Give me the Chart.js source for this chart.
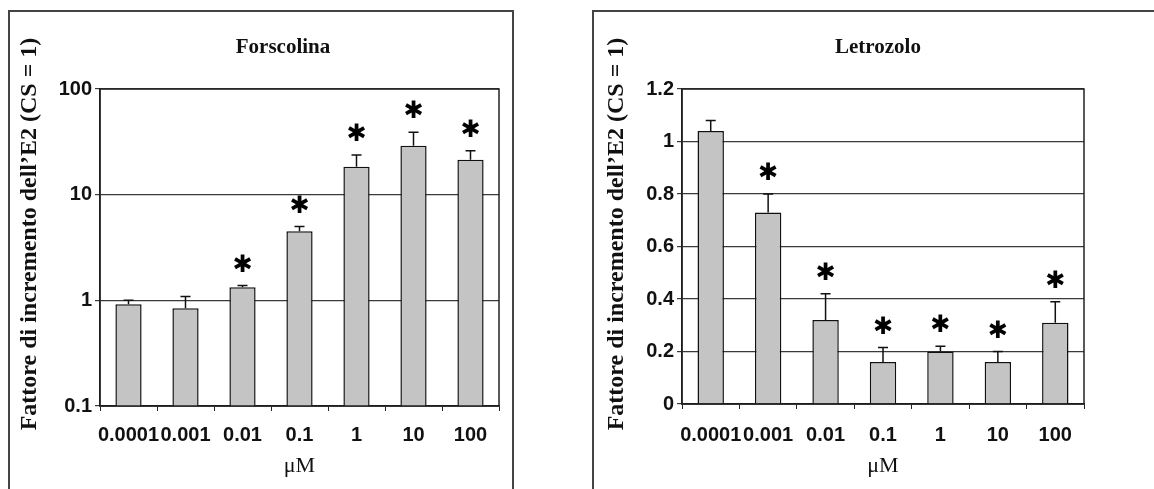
<!DOCTYPE html>
<html>
<head>
<meta charset="utf-8">
<script src="https://cdn.jsdelivr.net/npm/chart.js@4.4.1/dist/chart.umd.min.js"></script>
<style>
  body { margin: 0; background: #fff; width: 1154px; height: 489px; overflow: hidden; position: relative; }
  canvas { position: absolute; top: 0; }
  .frame { position: absolute; border: 2px solid #444; pointer-events: none; }
</style>
</head>
<body>
<div class="frame" style="left:8px;top:10px;width:502px;height:520px;"></div>
<div class="frame" style="left:592px;top:10px;width:620px;height:520px;"></div>
<canvas id="forscolina" width="512" height="489" style="left:0"></canvas>
<canvas id="letrozolo" width="574" height="489" style="left:580px"></canvas>
<script>
const doses = ['0.0001', '0.001', '0.01', '0.1', '1', '10', '100'];

const forscolinaMean = [0.92, 0.84, 1.33, 4.5, 18.4, 29, 21.4];
const forscolinaErrTop = [1.0, 1.09, 1.38, 5.0, 23.8, 39, 26];
const forscolinaSig = [false, false, true, true, true, true, true];
const forscolinaTicks = [0.1, 1, 10, 100];

const letrozoloMean = [1.04, 0.73, 0.32, 0.16, 0.2, 0.16, 0.31];
const letrozoloErrTop = [1.08, 0.8, 0.42, 0.215, 0.22, 0.2, 0.39];
const letrozoloSig = [false, true, true, true, true, true, true];
const letrozoloTicks = [0, 0.2, 0.4, 0.6, 0.8, 1, 1.2];

const yTitle = 'Fattore di incremento dell\u2019E2 (CS = 1)';
const serif = '"Liberation Serif", "DejaVu Serif", serif';
const sans = '"Liberation Sans", Arial, sans-serif';

// error bars (upper only), asterisks, titles and the closed plot frame
const extras = (errTop, sig, title, box) => ({
  id: 'extras',
  afterDatasetsDraw(chart) {
    const { ctx, chartArea: a, scales: { x, y } } = chart;
    ctx.save();
    ctx.strokeStyle = '#111';
    ctx.lineWidth = 1.5;
    errTop.forEach((v, i) => {
      const px = x.getPixelForValue(i);
      const top = y.getPixelForValue(v);
      const base = y.getPixelForValue(chart.data.datasets[0].data[i]);
      ctx.beginPath();
      ctx.moveTo(px, base);
      ctx.lineTo(px, top);
      ctx.moveTo(px - 5, top);
      ctx.lineTo(px + 5, top);
      ctx.stroke();
      if (sig[i]) {
        ctx.fillStyle = '#000';
        ctx.font = 'bold 24px "DejaVu Sans"';
        ctx.textAlign = 'center';
        ctx.textBaseline = 'middle';
        ctx.fillText('\u2731', px, top - 20);
      }
    });
    ctx.strokeStyle = '#222';
    ctx.lineWidth = 1.5;
    ctx.strokeRect(a.left, a.top, a.right - a.left, a.bottom - a.top);

    ctx.fillStyle = '#111';
    ctx.textAlign = 'center';
    ctx.textBaseline = 'middle';
    ctx.font = 'bold 21px ' + serif;
    ctx.fillText(title, box.titleX, 48);

    ctx.translate(box.yTitleX, 234);
    ctx.rotate(-Math.PI / 2);
    ctx.font = 'bold 24px ' + serif;
    ctx.fillText(yTitle, 0, 0);
    ctx.restore();
  }
});

function makeChart(id, mean, errTop, sig, title, yScale, box) {
  return new Chart(document.getElementById(id), {
    type: 'bar',
    data: {
      labels: doses,
      datasets: [{
        data: mean,
        backgroundColor: '#c4c4c4',
        borderColor: '#111',
        borderWidth: 1.5,
        barPercentage: 0.46,
        categoryPercentage: 1
      }]
    },
    options: {
      responsive: false,
      animation: false,
      devicePixelRatio: 1,
      layout: { padding: { left: 0, right: box.right, top: 89, bottom: 0 } },
      plugins: {
        legend: { display: false },
        tooltip: { enabled: false },
        title: { display: false }
      },
      scales: {
        x: {
          offset: true,
          grid: { display: true, drawOnChartArea: false, offset: true, tickLength: 5, color: '#222' },
          border: { color: '#111', width: 1.5 },
          ticks: {
            autoSkip: false, maxRotation: 0, minRotation: 0,
            padding: box.xPad, color: '#111',
            font: { family: sans, size: 20, weight: 'bold' }
          },
          title: {
            display: true, text: '\u03bcM', color: '#111',
            font: { family: serif, size: 22, lineHeight: 1.2 },
            padding: { top: 0, bottom: 10 }
          },
          afterFit(s) { s.height = box.xHeight; }
        },
        y: Object.assign({
          border: { color: '#111', width: 1.5 },
          grid: { color: '#3a3a3a', lineWidth: 1.2, tickLength: 5 },
          ticks: {
            padding: 3, color: '#111',
            font: { family: sans, size: 20, weight: 'bold' },
            callback: (v) => String(Math.round(v * 10000) / 10000)
          },
          afterFit(s) { s.width = box.yWidth; }
        }, yScale)
      }
    },
    plugins: [extras(errTop, sig, title, box)]
  });
}

makeChart('forscolina', forscolinaMean, forscolinaErrTop, forscolinaSig, 'Forscolina', {
  type: 'logarithmic',
  min: 0.1,
  max: 100,
  afterBuildTicks(s) { s.ticks = forscolinaTicks.map((v) => ({ value: v, major: true })); }
}, { right: 13, yWidth: 100, yTitleX: 30, xHeight: 83, xPad: 12, titleX: 283 });

makeChart('letrozolo', letrozoloMean, letrozoloErrTop, letrozoloSig, 'Letrozolo', {
  type: 'linear',
  min: 0,
  max: 1.2,
  afterBuildTicks(s) { s.ticks = letrozoloTicks.map((v) => ({ value: v })); }
}, { right: 70, yWidth: 102, yTitleX: 37, xHeight: 85, xPad: 14, titleX: 298 });
</script>
</body>
</html>
